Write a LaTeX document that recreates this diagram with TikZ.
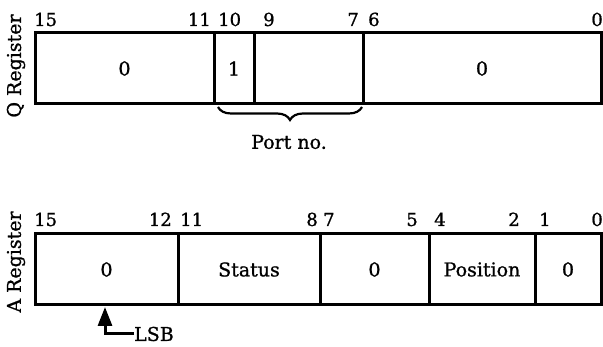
\documentclass[tikz,border=0pt]{standalone}
\usepackage{fontspec}
\setmainfont{DejaVu Serif}[FakeBold=1]
\usetikzlibrary{arrows.meta,decorations.pathreplacing}
\tikzset{
  fld/.style={draw, line width=3pt, inner sep=0pt, font=\fontsize{19}{21}\selectfont},
  bitw/.style={anchor=base west, inner sep=0pt, font=\fontsize{18}{20}\selectfont},
  bite/.style={anchor=base east, inner sep=0pt, font=\fontsize{18}{20}\selectfont},
  reglbl/.style={rotate=90, inner sep=0pt, font=\fontsize{19}{21}\selectfont},
  plain/.style={inner sep=0pt, font=\fontsize{19}{21}\selectfont},
}
\begin{document}
\begin{tikzpicture}[x=1pt,y=-1pt]
\useasboundingbox (0,0) rectangle (603,347);
% Q register
\node[fld, minimum width=179pt, minimum height=71pt] (q1) at (124.5,68.5) {0};
\node[fld, minimum width=40pt,  minimum height=71pt] (q2) at (234,68.5) {1};
\node[fld, minimum width=109pt, minimum height=71pt] (q3) at (308.5,68.5) {};
\node[fld, minimum width=238pt, minimum height=71pt] (q4) at (482,68.5) {0};
\node[reglbl] (qlbl) at (16,66) {Q Register};
\node[bitw] (qb15) at (34,26) {15};
\node[bite] (qb11) at (211,26) {11};
\node[bitw] (qb10) at (218,26) {10};
\node[bitw] (qb9)  at (263,26) {9};
\node[bite] (qb7)  at (359,26) {7};
\node[bitw] (qb6)  at (368,26) {6};
\node[bite] (qb0)  at (603,26) {0};
\coordinate (brl) at (218,107);
\coordinate (brr) at (362,107);
\draw[line width=2.2pt, decorate, decoration={brace, mirror, amplitude=13pt}] (brl) -- (brr);
\node[plain] (port) at (289,142) {Port no.};
% A register
\node[fld, minimum width=143pt, minimum height=71pt] (a1) at (106.5,269.5) {0};
\node[fld, minimum width=142pt, minimum height=71pt] (a2) at (249,269.5) {Status};
\node[fld, minimum width=109pt, minimum height=71pt] (a3) at (374.5,269.5) {0};
\node[fld, minimum width=106pt, minimum height=71pt] (a4) at (482,269.5) {Position};
\node[fld, minimum width=66pt,  minimum height=71pt] (a5) at (568,269.5) {0};
\node[reglbl] (albl) at (16,262) {A Register};
\node[bitw] (ab15) at (34,226) {15};
\node[bite] (ab12) at (172,226) {12};
\node[bitw] (ab11) at (180,226) {11};
\node[bite] (ab8)  at (318,226) {8};
\node[bitw] (ab7)  at (323,226) {7};
\node[bite] (ab5)  at (418,226) {5};
\node[bitw] (ab4)  at (434,226) {4};
\node[bite] (ab2)  at (520,226) {2};
\node[bitw] (ab1)  at (539,226) {1};
\node[bite] (ab0)  at (603,226) {0};
% LSB arrow
\node[plain, anchor=west] (lsb) at (134,334) {LSB};
\coordinate (lsbtip) at (105,307);
\draw[line width=3pt, -{Triangle[width=14pt,length=19pt]}] (lsb.west) -| (lsbtip);
\end{tikzpicture}
\end{document}
